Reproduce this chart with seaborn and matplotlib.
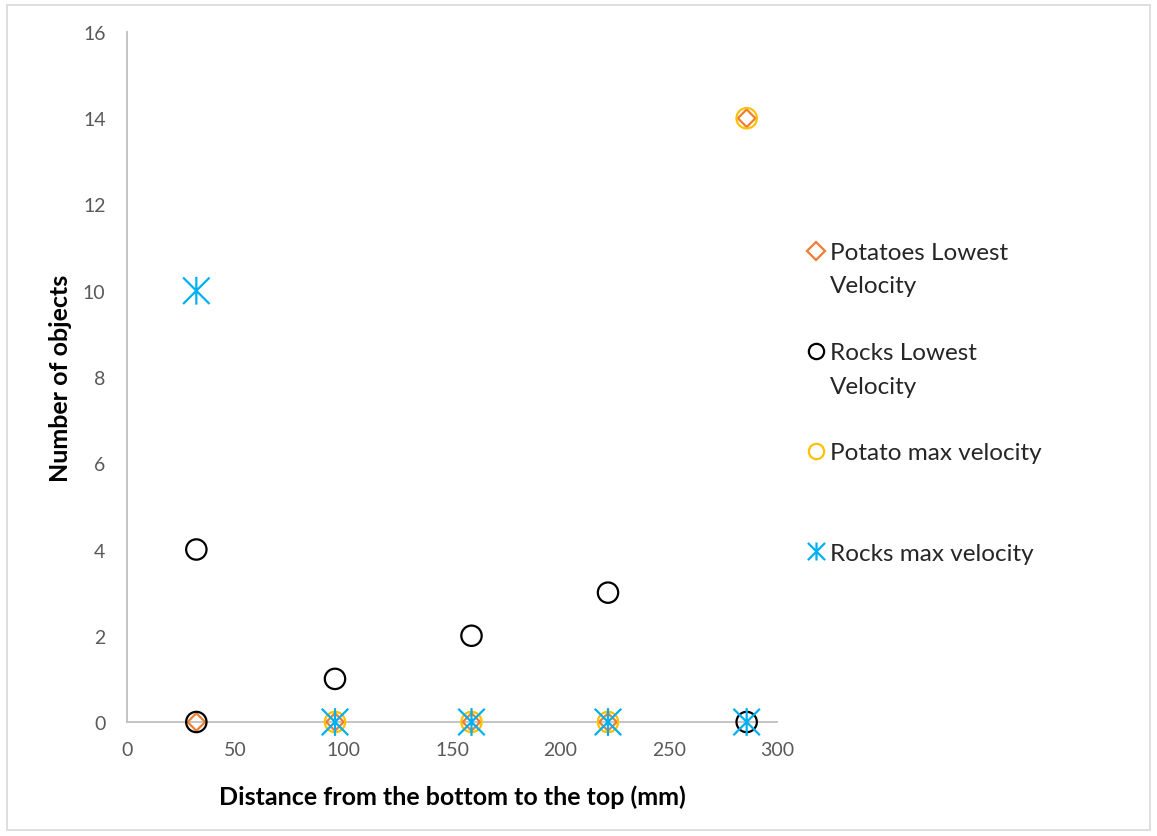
import matplotlib
matplotlib.use("Agg")
import matplotlib.pyplot as plt
import seaborn as sns
import pandas as pd
from matplotlib.path import Path
from matplotlib.lines import Line2D
from matplotlib.patches import Rectangle

# Sample positions along the chute (mm) and counts of objects at each
potato_low_x = [32, 96, 159, 222, 286]
potato_low_y = [0, 0, 0, 0, 14]

rock_low_x = [32, 32, 96, 159, 222, 286]
rock_low_y = [0, 4, 1, 2, 3, 0]

potato_max_x = [96, 159, 222, 286]
potato_max_y = [0, 0, 0, 14]

rock_max_x = [32, 96, 159, 222, 286]
rock_max_y = [10, 0, 0, 0, 0]

series_labels = ["Potatoes Lowest\nVelocity", "Rocks Lowest\nVelocity",
                 "Potato max velocity", "Rocks max velocity"]
x_ticks = [0, 50, 100, 150, 200, 250, 300]
y_ticks = [0, 2, 4, 6, 8, 10, 12, 14, 16]

ORANGE = "#ED7D31"
BLACK = "#000000"
GOLD = "#FFC000"
CYAN = "#00B0F0"
AXIS_GRAY = "#BFBFBF"
TEXT_GRAY = "#595959"

# Asterisk marker: an X with a vertical stroke through it
asterisk = Path([(-1, -1), (1, 1), (-1, 1), (1, -1), (0, -1.05), (0, 1.05)],
                [Path.MOVETO, Path.LINETO, Path.MOVETO, Path.LINETO,
                 Path.MOVETO, Path.LINETO])

sns.set_theme(style="white")
plt.rcParams["font.family"] = ["Lato", "DejaVu Sans"]

fig = plt.figure(figsize=(11.57, 8.37), dpi=100)
ax = fig.add_axes([127 / 1157, 1 - 723 / 837, 650 / 1157, 690 / 837])

series = [
    (potato_low_x, potato_low_y, "D", ORANGE, 80, series_labels[0]),
    (rock_low_x, rock_low_y, "o", BLACK, 215, series_labels[1]),
    (potato_max_x, potato_max_y, "o", GOLD, 215, series_labels[2]),
    (rock_max_x, rock_max_y, asterisk, CYAN, 400, series_labels[3]),
]

for xs, ys, mk, col, size, lab in series:
    df = pd.DataFrame({"x": xs, "y": ys})
    sns.scatterplot(data=df, x="x", y="y", ax=ax, marker=mk, s=size,
                    facecolor="none", edgecolor=col, linewidth=1.6,
                    clip_on=False, zorder=3, legend=False)

ax.set_xlim(0, 300)
ax.set_ylim(0, 16)
ax.set_xticks(x_ticks)
ax.set_yticks(y_ticks)

for side in ["top", "right"]:
    ax.spines[side].set_visible(False)
for side in ["left", "bottom"]:
    ax.spines[side].set_color(AXIS_GRAY)
    ax.spines[side].set_linewidth(1.3)

ax.tick_params(axis="both", direction="inout", length=11, width=1.3,
               color=AXIS_GRAY, labelcolor=TEXT_GRAY, labelsize=14)
ax.tick_params(axis="y", pad=10)
ax.tick_params(axis="x", pad=8)
ax.grid(False)

ax.set_xlabel("Distance from the bottom to the top (mm)", fontsize=18,
              fontweight="bold", color="black", labelpad=19)
ax.set_ylabel("Number of objects", fontsize=18, fontweight="bold",
              color="black", labelpad=8)

# Legend laid out on a fixed row grid so each marker sits beside the first
# line of its label, with blank rows between entries.
def marker_handle(mk, col, ms):
    return Line2D([], [], linestyle="none", marker=mk, markersize=ms,
                  markerfacecolor="none", markeredgecolor=col,
                  markeredgewidth=1.6)

blank = Line2D([], [], linestyle="none")
rows = [
    (marker_handle("D", ORANGE, 9), series_labels[0].split("\n")[0]),
    (blank, series_labels[0].split("\n")[1]),
    (blank, " "),
    (marker_handle("o", BLACK, 11), series_labels[1].split("\n")[0]),
    (blank, series_labels[1].split("\n")[1]),
    (blank, " "),
    (marker_handle("o", GOLD, 11), series_labels[2]),
    (blank, " "),
    (blank, " "),
    (marker_handle(asterisk, CYAN, 13), series_labels[3]),
]
fig.legend([r[0] for r in rows], [r[1] for r in rows], loc="upper left",
           bbox_to_anchor=(806 / 1157, 1 - 243 / 837), frameon=False,
           fontsize=17.5, handlelength=0.8, handletextpad=0.18,
           labelspacing=0.51, borderaxespad=0, borderpad=0)

fig.patches.append(Rectangle((7 / 1157, 6 / 837), 1143 / 1157, 825 / 837,
                             transform=fig.transFigure, fill=False,
                             edgecolor="#D9D9D9", linewidth=1.2))

fig.savefig("out.png", dpi=100, facecolor="white")
